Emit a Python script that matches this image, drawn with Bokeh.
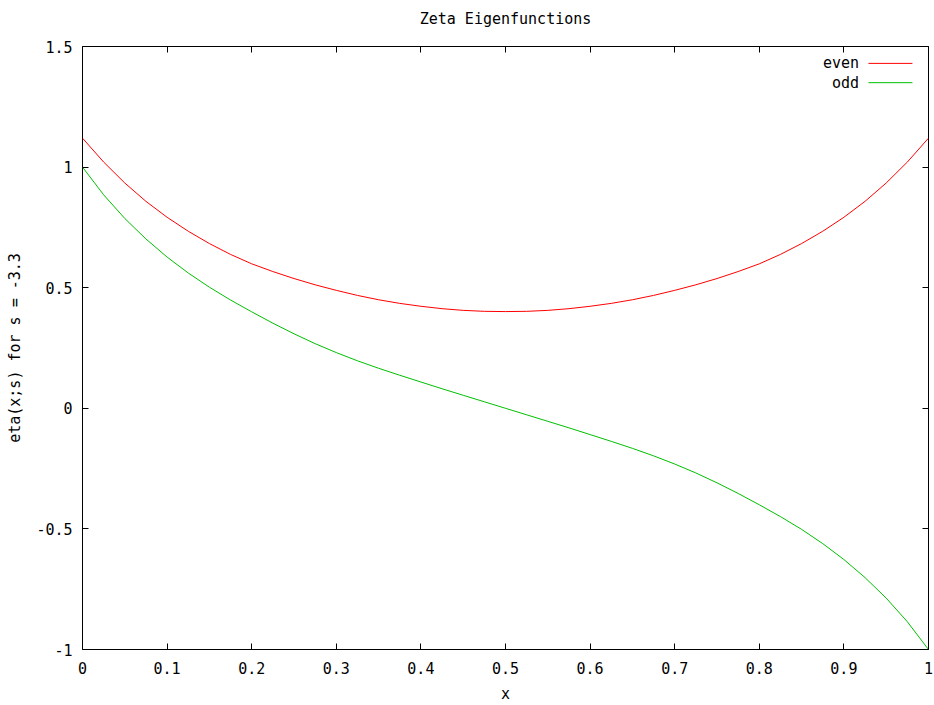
from bokeh.plotting import figure
from bokeh.models import Range1d, LinearAxis, FixedTicker, Label, Arrow
from bokeh.embed import file_html
from bokeh.resources import INLINE

# Sampled eigenfunction values on [0, 1]
x_vals = [0.0, 0.025, 0.05, 0.075, 0.1, 0.125, 0.15, 0.175, 0.2, 0.225,
          0.25, 0.275, 0.3, 0.325, 0.35, 0.375, 0.4, 0.425, 0.45, 0.475,
          0.5, 0.525, 0.55, 0.575, 0.6, 0.625, 0.65, 0.675, 0.7, 0.725,
          0.75, 0.775, 0.8, 0.825, 0.85, 0.875, 0.9, 0.925, 0.95, 0.975, 1.0]
even_vals = [1.120, 1.021, 0.934, 0.858, 0.792, 0.734, 0.683, 0.638, 0.599, 0.567,
             0.538, 0.512, 0.489, 0.468, 0.450, 0.435, 0.423, 0.413, 0.406, 0.402,
             0.401, 0.402, 0.406, 0.413, 0.423, 0.435, 0.450, 0.468, 0.489, 0.512,
             0.538, 0.567, 0.599, 0.638, 0.683, 0.734, 0.792, 0.858, 0.934, 1.021, 1.120]
odd_vals = [1.000, 0.885, 0.787, 0.702, 0.627, 0.561, 0.502, 0.449, 0.400, 0.353,
            0.309, 0.268, 0.231, 0.197, 0.166, 0.137, 0.109, 0.081, 0.054, 0.027,
            0.000, -0.027, -0.054, -0.081, -0.109, -0.137, -0.166, -0.197, -0.231, -0.268,
            -0.309, -0.353, -0.400, -0.449, -0.502, -0.561, -0.627, -0.702, -0.787, -0.885, -1.000]

series_names = ["even", "odd"]
series_colors = ["#ff0000", "#00c000"]

x_ticks = [0, 0.1, 0.2, 0.3, 0.4, 0.5, 0.6, 0.7, 0.8, 0.9, 1]
x_tick_labels = ["0", "0.1", "0.2", "0.3", "0.4", "0.5", "0.6", "0.7", "0.8", "0.9", "1"]
y_ticks = [-1, -0.5, 0, 0.5, 1, 1.5]
y_tick_labels = ["-1", "-0.5", "0", "0.5", "1", "1.5"]

TITLE = "Zeta Eigenfunctions"
X_LABEL = "x"
Y_LABEL = "eta(x;s) for s = -3.3"

FONT = "DejaVu Sans Mono"
FSIZE = "15px"

p = figure(width=934, height=705,
           x_range=Range1d(0, 1), y_range=Range1d(-1, 1.5),
           output_backend="svg", toolbar_location=None, title=None,
           x_axis_label=X_LABEL, y_axis_label=Y_LABEL,
           min_border_left=82, min_border_right=6,
           min_border_top=46, min_border_bottom=55)

p.background_fill_color = "white"
p.border_fill_color = "white"
p.outline_line_color = "black"
p.outline_line_width = 1
p.grid.visible = False


def style_axis(ax, ticks, labels, show_labels):
    ax.ticker = FixedTicker(ticks=ticks)
    ax.major_tick_in = 6
    ax.major_tick_out = 0
    ax.major_tick_line_color = "black"
    ax.minor_tick_line_color = None
    ax.axis_line_color = None
    if show_labels:
        ax.major_label_overrides = {t: l for t, l in zip(ticks, labels)}
        ax.major_label_text_font = FONT
        ax.major_label_text_font_size = FSIZE
        ax.major_label_text_color = "black"
    else:
        ax.major_label_text_color = None
        ax.major_label_text_font_size = "0px"
        ax.major_label_standoff = 0
    ax.axis_label_text_font = FONT
    ax.axis_label_text_font_size = FSIZE
    ax.axis_label_text_font_style = "normal"
    ax.axis_label_text_color = "black"


style_axis(p.xaxis[0], x_ticks, x_tick_labels, True)
p.xaxis[0].major_label_standoff = 12
p.xaxis[0].axis_label_standoff = 8
style_axis(p.yaxis[0], y_ticks, y_tick_labels, True)
p.yaxis[0].major_label_standoff = 10
p.yaxis[0].axis_label_standoff = 9

# mirrored tick marks on the top and right edges of the box;
# the top one also carries the chart title
top_axis = LinearAxis(axis_label=TITLE)
style_axis(top_axis, x_ticks, x_tick_labels, False)
top_axis.axis_label_standoff = 19
p.add_layout(top_axis, "above")
right_axis = LinearAxis()
style_axis(right_axis, y_ticks, y_tick_labels, False)
p.add_layout(right_axis, "right")

for name, vals, color in zip(series_names, [even_vals, odd_vals], series_colors):
    p.line(x_vals, vals, line_color=color, line_width=1)

# key in the upper right corner: name followed by a line sample
key_rows_y = [1.43, 1.35]
for name, color, ky in zip(series_names, series_colors, key_rows_y):
    p.add_layout(Label(x=0.918, y=ky, text=name, text_align="right",
                       text_baseline="middle", text_font=FONT,
                       text_font_size=FSIZE, text_color="black"))
    p.add_layout(Arrow(end=None, x_start=0.929, y_start=ky, x_end=0.981, y_end=ky,
                       line_color=color, line_width=1))

open("out.html", "w").write(file_html(p, INLINE))
